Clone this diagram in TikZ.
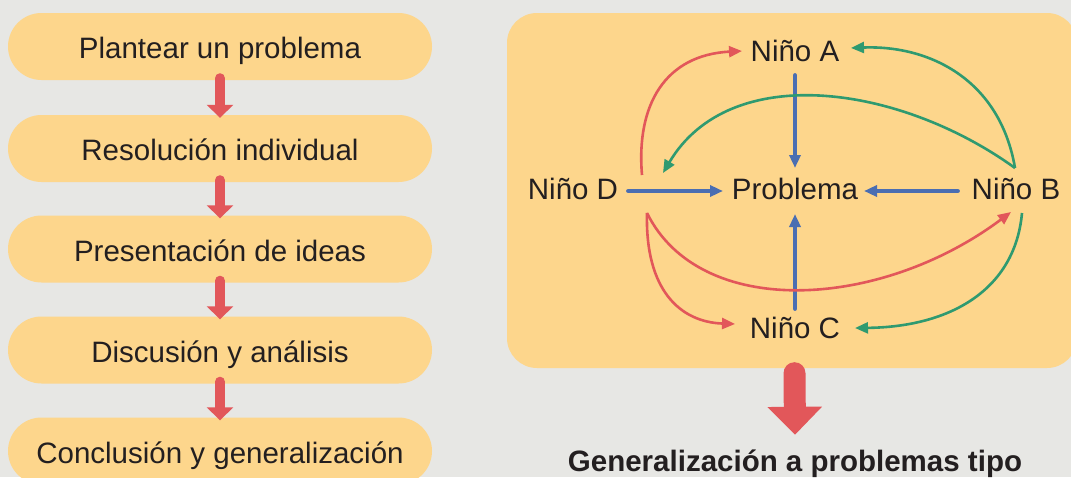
\documentclass[tikz,border=0pt]{standalone}
\usepackage{fontspec}
\setmainfont{Liberation Sans}
\usetikzlibrary{arrows.meta,calc}
\definecolor{bgc}{HTML}{E7E7E4}
\definecolor{boxc}{HTML}{FDD68C}
\definecolor{redc}{HTML}{E2575A}
\definecolor{bluec}{HTML}{4A6EB2}
\definecolor{greenc}{HTML}{2F9A70}
\definecolor{txtc}{HTML}{231F20}
\begin{document}
\begin{tikzpicture}[x=1pt,y=-1pt,
  txt/.style={font=\fontsize{29.5pt}{35pt}\selectfont, text=txtc, inner sep=0pt, text height=21pt, text depth=0pt},
  stepbox/.style={txt, text height=24pt, fill=boxc, rounded corners=33.5pt, minimum width=424pt, minimum height=67pt},
  kid/.style={txt},
  flowarrow/.style={draw=redc, line width=10pt, line cap=round, -{Triangle[length=13pt,width=26pt]}},
  bluearrow/.style={draw=bluec, line width=4.8pt, line cap=round, -{Triangle[length=13pt,width=11pt]}},
  redcurve/.style={draw=redc, line width=2.6pt, -{Triangle[length=13pt,width=11pt]}},
  greencurve/.style={draw=greenc, line width=2.6pt, -{Triangle[length=13pt,width=11pt]}},
  bigarrow/.style={draw=redc, line width=22pt, line cap=round, -{Triangle[length=28pt,width=53pt]}}
]
\useasboundingbox (0,0) rectangle (1071,477);
\clip (0,0) rectangle (1071,477);
\fill[bgc] (0,0) rectangle (1071,477);

% left flow
\node[stepbox] (b1) at (220,46.5) {Plantear un problema};
\node[stepbox] (b2) at (220,148.5) {Resolución individual};
\node[stepbox] (b3) at (220,249) {Presentación de ideas};
\node[stepbox] (b4) at (220,350) {Discusión y análisis};
\node[stepbox] (b5) at (220,451) {Conclusión y generalización};
\foreach \a/\b in {b1/b2,b2/b3,b3/b4,b4/b5}{
  \draw[flowarrow] ([shift={(0,-2)}]\a.south) -- ([shift={(0,3)}]\b.north);
}

% right panel
\node[fill=boxc, rounded corners=30pt, minimum width=570pt, minimum height=355pt, inner sep=0pt] (panel) at (792,190.5) {};

\node[kid] (A) at (795,50.5) {Niño A};
\node[kid] (P) at (795,189) {Problema};
\node[kid] (D) at (573,189) {Niño D};
\node[kid] (B) at (1016,189) {Niño B};
\node[kid] (C) at (795,328) {Niño C};

% blue arrows
\draw[bluearrow] ([shift={(0,25)}]A.center) -- ([shift={(0,-21)}]P.center);
\draw[bluearrow] ([shift={(55.5,2)}]D.center) -- ([shift={(-72,2)}]P.center);
\draw[bluearrow] ([shift={(-58.5,2)}]B.center) -- ([shift={(69,2)}]P.center);
\draw[bluearrow] ([shift={(0,-19.5)}]C.center) -- ([shift={(0,25)}]P.center);

% curves
\draw[redcurve] ([shift={(69,-14)}]D.center) .. controls +(-6,-70) and +(-77,4) .. ([shift={(-53,0.5)}]A.center);
\draw[greencurve] ([shift={(-1,-21)}]B.center) .. controls +(-115,-83) and +(67,-113) .. ([shift={(90,-16)}]D.center);
\draw[greencurve] ([shift={(-1,-21)}]B.center) .. controls +(-15,-88) and +(79,-3) .. ([shift={(56,-2.5)}]A.center);
\draw[redcurve] ([shift={(74,24)}]D.center) .. controls +(-2,77) and +(-55,-2) .. ([shift={(-60,-4)}]C.center);
\draw[redcurve] ([shift={(74,24)}]D.center) .. controls +(53,107) and +(-131,98) .. ([shift={(-5,23)}]B.center);
\draw[greencurve] ([shift={(6,24)}]B.center) .. controls +(-7,77) and +(95,-1) .. ([shift={(60,0)}]C.center);

% result
\node[txt, font=\fontsize{29.5pt}{35pt}\selectfont\bfseries] (G) at (795,460.5) {Generalización a problemas tipo};
\draw[bigarrow] ([shift={(2.5,5)}]panel.south) -- ([shift={(0,-15)}]G.north);
\end{tikzpicture}
\end{document}
